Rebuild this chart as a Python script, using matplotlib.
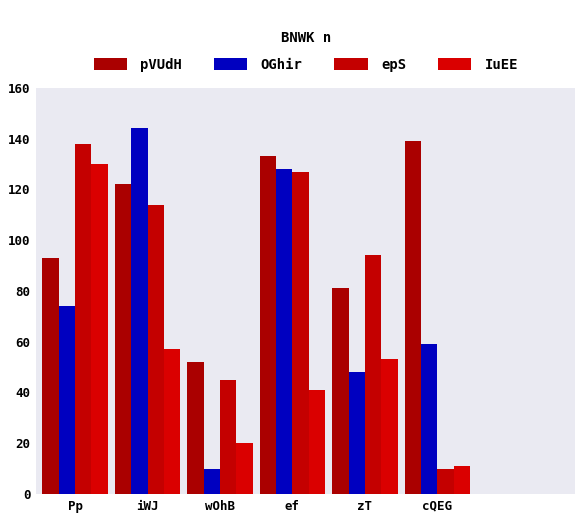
import matplotlib

matplotlib.use("Agg")
import matplotlib.pyplot as plt
import numpy as np

CATEGORIES = ["Pp", "iWJ", "wOhB", "ef", "zT", "cQEG"]
SERIES = ["pVUdH", "OGhir", "epS", "IuEE"]
PVUDH = [93, 122, 52, 133, 81, 139]
OGHIR = [74, 144, 10, 128, 48, 59]
EPS = [138, 114, 45, 127, 94, 10]
IUEE = [130, 57, 20, 41, 53, 11]
COLORS = ["#aa0000", "#0000c0", "#c40000", "#da0000"]

plt.rcParams["font.family"] = ["DejaVu Sans Mono"]
plt.rcParams["font.weight"] = "bold"

fig = plt.figure(figsize=(5.85, 5.2), dpi=100)
ax = fig.add_axes([0.0615, 0.05, 0.9215, 0.781])
ax.set_facecolor("#eaeaf2")

x = np.arange(len(CATEGORIES))
width = 0.225
for i, (name, vals) in enumerate(zip(SERIES, [PVUDH, OGHIR, EPS, IUEE])):
    offset = (i - 1.5) * width
    ax.bar(x + offset, vals, width=width, color=COLORS[i], label=name, linewidth=0)

ax.set_xlim(-0.54, 6.9)
ax.set_ylim(0, 160)
ax.set_yticks(range(0, 161, 20))
ax.set_xticks(x)
ax.set_xticklabels(CATEGORIES)
ax.tick_params(length=0, labelsize=9, pad=4)
for s in ax.spines.values():
    s.set_visible(False)

fig.text(0.523, 0.927, "BNWK n", ha="center", va="center", fontsize=10, fontweight="bold")
fig.legend(loc="center", bbox_to_anchor=(0.523, 0.875), ncol=4, frameon=False,
           fontsize=10, handlelength=2.4, handleheight=0.9, columnspacing=2.3,
           handletextpad=0.95)

fig.savefig("out.png", dpi=100)
